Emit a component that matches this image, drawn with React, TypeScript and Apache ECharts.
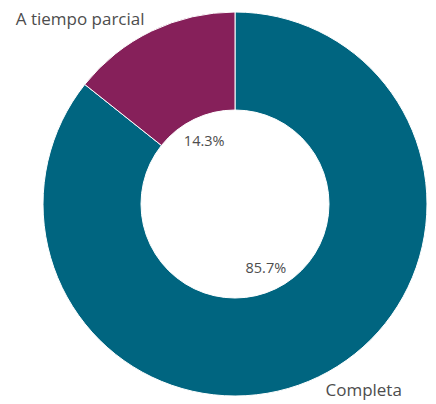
import React, { useEffect, useRef } from "react";
import * as echarts from "echarts";

const categories = ["Completa", "A tiempo parcial"];
const values = [85.7, 14.3];
const colors = ["#006580", "#86205a"];

const FONT = "'Open Sans', 'Noto Sans', sans-serif";

export default function App() {
  const ref = useRef<HTMLDivElement>(null);
  useEffect(() => {
    if (!ref.current) return;
    const chart = echarts.init(ref.current, undefined, { renderer: "svg" });
    const data = categories.map((name, i) => ({
      name,
      value: values[i],
      itemStyle: { color: colors[i] },
    }));
    chart.setOption({
      animation: false,
      textStyle: { fontFamily: FONT },
      series: [
        {
          type: "pie",
          center: [235, 204],
          radius: [94, 192],
          startAngle: 90,
          clockwise: true,
          itemStyle: { borderColor: "#ffffff", borderWidth: 1 },
          label: {
            show: true,
            position: "outside",
            formatter: "{b}",
            color: "#4d4d4d",
            fontSize: 17,
            fontFamily: FONT,
            distanceToLabelLine: 1,
          },
          labelLine: { show: false, length: 14, length2: 0 },
          emphasis: { disabled: true },
          data,
        },
        {
          type: "pie",
          center: [235, 204],
          radius: [42, 94],
          startAngle: 90,
          clockwise: true,
          silent: true,
          itemStyle: { color: "transparent" },
          label: {
            show: true,
            position: "inside",
            formatter: (p: any) => p.value.toFixed(1) + "%",
            color: "#4d4d4d",
            fontSize: 14.5,
            fontFamily: FONT,
          },
          labelLine: { show: false },
          emphasis: { disabled: true },
          data: categories.map((name, i) => ({
            name,
            value: values[i],
            itemStyle: { color: "transparent" },
          })),
        },
      ],
    });
    return () => chart.dispose();
  }, []);
  return (
    <div
      ref={ref}
      style={{ position: "absolute", left: 0, top: 0, width: 436, height: 404 }}
    />
  );
}
